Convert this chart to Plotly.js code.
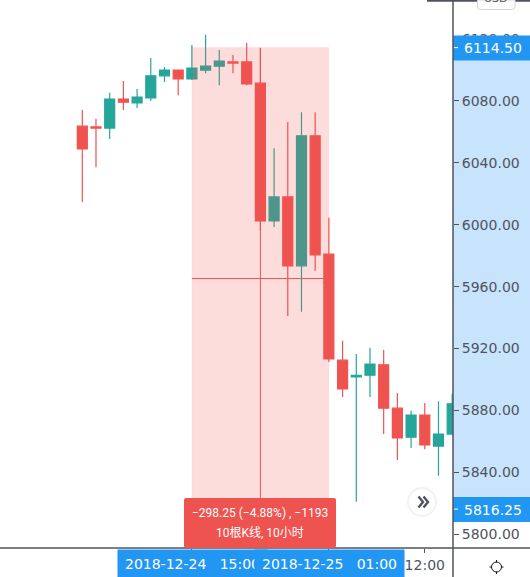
<!DOCTYPE html>
<html><head><meta charset="utf-8">
<script src="https://cdn.plot.ly/plotly-3.0.1.min.js"></script>
<style>html,body{margin:0;padding:0;background:#fff;overflow:hidden}#c{width:530px;height:577px}</style>
</head><body><div id="c"></div>
<script>
const idx   = [0,1,2,3,4,5,6,7,8,9,10,11,12,13,14,15,16,17,18,19,20,21,22,23,24,25,26,27];
const opens = [6063.75,6063.25,6062.5,6081.25,6078.75,6082,6096.25,6100,6094.25,6100,6102.5,6105.25,6105.25,6091.5,6002.5,6018,5973.5,6057.5,5981,5912.5,5901.75,5902.75,5909.5,5881.5,5862.75,5877,5857,5864.75];
const highs = [6074.25,6068.5,6085.25,6093,6087.75,6107.75,6102,6100,6116.25,6122.75,6113,6109.75,6117.5,6114.25,6049.5,6066.5,6072.75,6072.75,6004.5,5925,5916.5,5920.5,5919,5891.25,5879.75,5884.75,5886,5890.75];
const lows  = [6014.75,6037.25,6055.5,6074.25,6075.5,6080,6092.25,6083.75,6093.5,6098,6090.25,6098,6090.25,5996,5998.5,5941,5943.75,5970.25,5911.25,5888.75,5821,5888.75,5864.75,5848,5855.75,5855,5837.75,5864.75];
const closes= [6049,6062.5,6081.25,6079.25,6082.5,6096.25,6100,6094.25,6101.25,6102.5,6105.75,6104.5,6091,6002.5,6018,5973.5,6057.5,5980.5,5913.25,5894,5902.75,5910,5881.5,5862.25,5877,5857.75,5864.75,5884.25];
const priceTicks = [5800,5840,5880,5920,5960,6000,6040,6080,6120];
const timeTicks  = [8,18,25];
const timeLabels = ['','','12:00'];
const priceFrom = 6114.5, priceTo = 5816.25, midPrice = 5965.25;
const measureLine1 = '−298.25 (−4.88%) , −1193', measureLine2 = '10根K线, 10小时';
const startLabel = '2018-12-24&nbsp;&nbsp;&nbsp;15:00', endLabel = '2018-12-25&nbsp;&nbsp;&nbsp;01:00';

const RED='#ef5350', TEAL='#26a69a', BLUE='#2196f3', AXIS='#50535e', GREY='#50535e';
const FONT='"DejaVu Sans", sans-serif';
const W=453, H=548;
const px=x=>x/W, py=y=>1-y/H;

const trace={type:'candlestick',x:idx,open:opens,high:highs,low:lows,close:closes,whiskerwidth:0,
  increasing:{line:{color:TEAL,width:1.2},fillcolor:TEAL},
  decreasing:{line:{color:RED,width:1.2},fillcolor:RED},hoverinfo:'skip'};

const tagShapes=p=>[
 {type:'rect',xref:'paper',yref:'y',ysizemode:'pixel',yanchor:p,x0:1,x1:530/W,y0:-13,y1:12,fillcolor:BLUE,line:{width:0},layer:'above'},
 {type:'line',xref:'paper',yref:'y',x0:453.8/W,x1:458/W,y0:p,y1:p,line:{color:'#fff',width:1},layer:'above'}
];
const shapes=[
 {type:'rect',xref:'paper',yref:'y',x0:1,x1:530/W,y0:priceFrom,y1:priceTo,fillcolor:'#c8e4fd',line:{width:0},layer:'below'},
 {type:'rect',xref:'x',yref:'y',x0:8,x1:18,y0:priceFrom,y1:priceTo,fillcolor:'rgba(239,83,80,0.2)',line:{width:1,color:'rgba(239,83,80,0.05)'},layer:'above'},
 {type:'line',xref:'x',yref:'y',x0:8,x1:18,y0:midPrice,y1:midPrice,line:{color:RED,width:1},layer:'above'},
 {type:'line',xref:'x',yref:'y',x0:13,x1:13,y0:priceFrom,y1:priceTo,line:{color:RED,width:1},layer:'above'},
 ...tagShapes(priceFrom),...tagShapes(priceTo),
 {type:'line',xref:'paper',yref:'paper',x0:1,x1:1,y0:py(0),y1:py(577),line:{color:AXIS,width:1.5},layer:'above'},
 {type:'line',xref:'paper',yref:'paper',x0:0,x1:530/W,y0:0,y1:0,line:{color:AXIS,width:1.5},layer:'above'},
 {type:'line',xref:'paper',yref:'paper',x0:px(427),x1:530/W,y0:py(0.7),y1:py(0.7),line:{color:AXIS,width:2},layer:'above'},
 {type:'path',xref:'paper',yref:'paper',path:`M${px(477.5)},${py(0)} L${px(477.5)},${py(7)} Q${px(477.5)},${py(9.5)} ${px(480.5)},${py(9.5)} L${px(512)},${py(9.5)} Q${px(515)},${py(9.5)} ${px(515)},${py(7)} L${px(515)},${py(0)} Z`,line:{color:'#d4d6dc',width:1},fillcolor:'#fff',layer:'above'},
 {type:'circle',xref:'paper',yref:'paper',x0:px(408),x1:px(436),y0:py(488),y1:py(516),fillcolor:'#fff',line:{color:'#f1f2f4',width:2},layer:'above'},
 {type:'path',xref:'paper',yref:'paper',path:`M${px(418.5)},${py(496.5)} L${px(423)},${py(502)} L${px(418.5)},${py(507.5)} M${px(423.5)},${py(496.5)} L${px(428)},${py(502)} L${px(423.5)},${py(507.5)}`,line:{color:'#50535e',width:2.4},layer:'above'},
 {type:'path',xref:'paper',yref:'paper',path:`M${px(323)},${py(273)} L${px(329)},${py(278.5)} L${px(323)},${py(283)}`,line:{color:RED,width:1},layer:'above'},
 {type:'path',xref:'paper',yref:'paper',path:`M${px(186)},${py(498)} L${px(334)},${py(498)} Q${px(336)},${py(498)} ${px(336)},${py(500)} L${px(336)},${py(546)} Q${px(336)},${py(548)} ${px(334)},${py(548)} L${px(186)},${py(548)} Q${px(184)},${py(548)} ${px(184)},${py(546)} L${px(184)},${py(500)} Q${px(184)},${py(498)} ${px(186)},${py(498)} Z`,fillcolor:RED,line:{width:0},layer:'above'},
 {type:'circle',xref:'paper',yref:'paper',x0:px(491.5),x1:px(501.5),y0:py(562),y1:py(572),fillcolor:'#fff',line:{color:'#131722',width:1},layer:'above'},
 {type:'path',xref:'paper',yref:'paper',path:`M${px(496.5)},${py(560)} L${px(496.5)},${py(562.5)} M${px(496.5)},${py(571.5)} L${px(496.5)},${py(574)} M${px(489.5)},${py(567)} L${px(492)},${py(567)} M${px(501)},${py(567)} L${px(503.5)},${py(567)}`,line:{color:'#131722',width:1},layer:'above'}
];
const priceLabel=(p)=>({xref:'paper',yref:'y',x:px(463),y:p,yshift:-0.5,xanchor:'left',yanchor:'middle',showarrow:false,borderpad:0,
  text:p.toFixed(2),font:{family:FONT,size:14,color:'#fff'}});
const timeLabel=(i,t)=>({xref:'x',yref:'paper',x:i,xshift:0.8,y:0,yshift:-0.5,xanchor:'center',yanchor:'top',showarrow:false,width:149,height:28,bgcolor:BLUE,borderpad:0,text:t,font:{family:FONT,size:14,color:'#fff'}});
const boxText=(t,y)=>({xref:'paper',yref:'paper',x:px(260),y:py(y),xanchor:'center',yanchor:'middle',showarrow:false,align:'center',text:t,font:{family:'Roboto, "Noto Sans CJK SC", sans-serif',size:12,color:'#fff'}});
const annotations=[
 priceLabel(priceFrom),priceLabel(priceTo),
 timeLabel(8,startLabel),timeLabel(18,endLabel),
 boxText(measureLine1,513),boxText(measureLine2,533),
 {xref:'paper',yref:'paper',x:px(496.5),y:py(-1),xanchor:'center',yanchor:'middle',showarrow:false,text:'USD',font:{family:FONT,size:11,color:'#50535e'}}
];
const layout={width:530,height:577,margin:{l:0,r:77,t:0,b:29},paper_bgcolor:'#fff',plot_bgcolor:'rgba(0,0,0,0)',showlegend:false,boxgap:0.27,boxgroupgap:0,dragmode:false,
 xaxis:{type:'linear',range:[-6.007,27.06],rangeslider:{visible:false},tickmode:'array',tickvals:timeTicks,ticktext:timeLabels,showgrid:false,zeroline:false,ticks:'outside',ticklen:4,tickwidth:1,tickcolor:AXIS,showline:false,tickfont:{family:FONT,size:14,color:GREY}},
 yaxis:{side:'right',type:'linear',range:[5791.1,6145.27],tickmode:'array',tickvals:priceTicks,ticktext:priceTicks.map(v=>v.toFixed(2)),showgrid:false,zeroline:false,ticks:'outside',ticklen:5,tickwidth:1,tickcolor:AXIS,showline:false,tickfont:{family:FONT,size:14,color:GREY}},
 shapes,annotations};
Plotly.newPlot('c',[trace],layout,{displayModeBar:false,staticPlot:true});
</script></body></html>
